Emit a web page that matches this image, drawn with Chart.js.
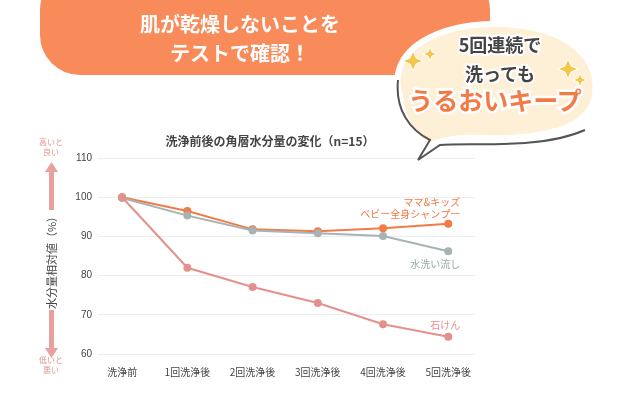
<!DOCTYPE html>
<html>
<head>
<meta charset="utf-8">
<script src="https://cdn.jsdelivr.net/npm/chart.js@4"></script>
<style>
  body { margin: 0; background: #fff; font-family: "Noto Sans CJK JP", sans-serif; }
  #wrap { position: relative; width: 620px; height: 406px; overflow: hidden; }
  #wrap canvas, #wrap svg { position: absolute; left: 0; top: 0; }
  .t { position: absolute; font-family: "Noto Sans CJK JP"; }
</style>
</head>
<body>
<div id="wrap">
  <canvas id="c" width="620" height="406"></canvas>
  <svg width="620" height="406">
    <rect x="40" y="-30" width="450" height="105" rx="40" fill="#f98b5b"/>
    <text x="240" y="32" text-anchor="middle" fill="#fff" font-size="20" font-weight="bold" font-family="Noto Sans CJK JP">肌が乾燥しないことを</text>
    <text x="240" y="61" text-anchor="middle" fill="#fff" font-size="20" font-weight="bold" font-family="Noto Sans CJK JP">テストで確認！</text>
    <path d="M400 95 C385 50 440 22 500 24 C565 26 600 55 595 95 C590 130 540 140 480 138 C455 137 440 140 430 146 L420 160 L424 143 C410 132 402 115 400 95 Z"
          fill="#fdf0d6" stroke="#fff" stroke-width="6"/>
    <path d="M398 80 C395 110 410 130 430 140 L418 160 L440 145 C470 142 540 150 585 130" fill="none" stroke="#555" stroke-width="2"/>
    <text x="500" y="52" text-anchor="middle" fill="#444" font-size="18" font-weight="bold" font-family="Noto Sans CJK JP" stroke="#fff" stroke-width="4" paint-order="stroke">5回連続で</text>
    <text x="500" y="81" text-anchor="middle" fill="#444" font-size="18" font-weight="bold" font-family="Noto Sans CJK JP" stroke="#fff" stroke-width="4" paint-order="stroke">洗っても</text>
    <text x="495" y="110" text-anchor="middle" fill="#f47a45" font-size="25" font-weight="bold" font-family="Noto Sans CJK JP" stroke="#fff" stroke-width="5" paint-order="stroke">うるおいキープ</text>
    <g fill="#f3c84a" stroke="#fff" stroke-width="1">
      <path d="M410 58 l3 -7 l3 7 l7 3 l-7 3 l-3 7 l-3 -7 l-7 -3 z"/>
      <path d="M428 52 l2 -5 l2 5 l5 2 l-5 2 l-2 5 l-2 -5 l-5 -2 z"/>
      <path d="M565 66 l3 -7 l3 7 l7 3 l-7 3 l-3 7 l-3 -7 l-7 -3 z"/>
      <path d="M578 78 l2 -5 l2 5 l5 2 l-5 2 l-2 5 l-2 -5 l-5 -2 z"/>
    </g>
    <g fill="#e4958f" font-family="Noto Sans CJK JP" font-size="8" text-anchor="middle">
      <text x="51" y="145">高いと</text><text x="51" y="155">良い</text>
      <text x="51" y="363">低いと</text><text x="51" y="373">悪い</text>
    </g>
    <rect x="49" y="170" width="5" height="40" fill="#e8a19c"/>
    <path d="M45 172 L51.5 162 L58 172 Z" fill="#e8a19c"/>
    <rect x="49" y="310" width="5" height="40" fill="#e8a19c"/>
    <path d="M45 348 L51.5 358 L58 348 Z" fill="#e8a19c"/>
    <text transform="translate(56,260) rotate(-90)" text-anchor="middle" fill="#444" font-size="11" font-family="Noto Sans CJK JP">水分量相対値（%）</text>
  </svg>
</div>
<script>
// データ
const categories = ['洗浄前', '1回洗浄後', '2回洗浄後', '3回洗浄後', '4回洗浄後', '5回洗浄後'];
const yTicks = [60, 70, 80, 90, 100, 110];
const mamaKids = [100, 96.5, 91.8, 91.3, 92.1, 93.2];
const waterOnly = [99.8, 95.3, 91.5, 90.8, 90.1, 86.2];
const soap = [100, 82, 77.1, 73, 67.6, 64.4];

const toPoints = arr => arr.map((v, i) => ({ x: i, y: v }));

// ラベル描画プラグイン
const labelsPlugin = {
    id: 'labels',
    afterDraw(chart) {
        const { ctx, scales: { x, y }, chartArea } = chart;
        ctx.save();
        ctx.font = 'bold 12px "Noto Sans CJK JP"';
        ctx.fillStyle = '#444';
        ctx.textAlign = 'center';
        ctx.fillText('洗浄前後の角層水分量の変化（n=15）', 270, 146);
        ctx.textAlign = 'right';
        ctx.font = '10px "Noto Sans CJK JP"';
        const right = x.getPixelForValue(5) + 12;
        ctx.fillStyle = '#f07a45';
        ctx.fillText('ママ&キッズ', right, y.getPixelForValue(mamaKids[5]) - 18);
        ctx.fillText('ベビー全身シャンプー', right, y.getPixelForValue(mamaKids[5]) - 6);
        ctx.fillStyle = '#9aa8a9';
        ctx.fillText('水洗い流し', right, y.getPixelForValue(waterOnly[5]) + 17);
        ctx.fillStyle = '#e4918b';
        ctx.fillText('石けん', right, y.getPixelForValue(soap[5]) - 8);
        ctx.restore();
    }
};

const ds = (data, color) => ({
    data: toPoints(data),
    borderColor: color,
    backgroundColor: color,
    borderWidth: 2,
    pointRadius: 3,
    pointHoverRadius: 3,
    tension: 0
});

new Chart(document.getElementById('c'), {
    type: 'line',
    data: {
        datasets: [
            ds(soap, '#e4918b'),
            ds(waterOnly, '#a7b3b4'),
            ds(mamaKids, '#f27b48')
        ]
    },
    options: {
        responsive: false,
        animation: false,
        layout: { padding: { left: 0, top: 158, right: 145, bottom: 0 } },
        plugins: { legend: { display: false }, tooltip: { enabled: false } },
        scales: {
            x: {
                type: 'linear',
                min: -0.37,
                max: 5.41,
                afterBuildTicks: s => { s.ticks = categories.map((c, i) => ({ value: i })); },
                afterFit: s => { s.height = 52; },
                ticks: { callback: v => categories[v], color: '#444', font: { size: 10, family: 'Noto Sans CJK JP' }, padding: 4, maxRotation: 0, autoSkip: false },
                grid: { display: false },
                border: { display: false }
            },
            y: {
                min: 60,
                max: 110,
                afterBuildTicks: s => { s.ticks = yTicks.map(v => ({ value: v })); },
                afterFit: s => { s.width = 98; },
                ticks: { color: '#444', font: { size: 10 }, padding: 6 },
                grid: { color: '#eeeeee', drawTicks: false },
                border: { display: false }
            }
        }
    },
    plugins: [labelsPlugin]
});
</script>
</body>
</html>
